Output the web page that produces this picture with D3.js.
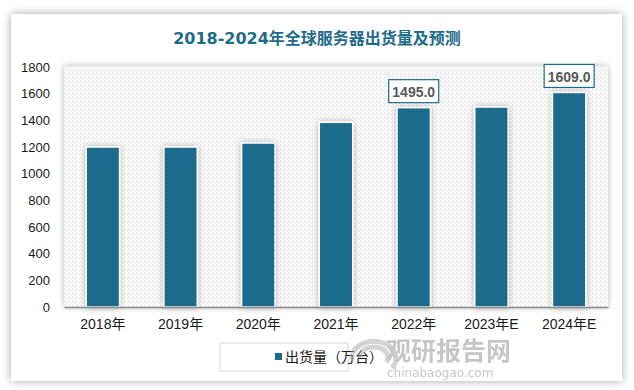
<!DOCTYPE html>
<html>
<head>
<meta charset="utf-8">
<script src="https://cdn.jsdelivr.net/npm/d3@7"></script>
<style>
  body { margin: 0; background: #ffffff; }
  svg { display: block; }
</style>
</head>
<body>
<script>
const years = ["2018年", "2019年", "2020年", "2021年", "2022年", "2023年E", "2024年E"]
const shipments = [1200, 1200, 1230, 1385, 1495, 1500, 1609]
const labelled = ["2022年", "2024年E"]
const yTicks = [0, 200, 400, 600, 800, 1000, 1200, 1400, 1600, 1800]

const title = "2018-2024年全球服务器出货量及预测"
const legendLabel = "出货量（万台）"

window.onload = function () {

    const width = 634, height = 390
    const plot = {left: 64, right: 608, top: 67, bottom: 307}
    const barColor = "#1b6a8c"
    const font = "'Liberation Sans', 'Noto Sans CJK SC', sans-serif"

    const svg = d3.select('body').append('svg')
        .attr('width', width)
        .attr('height', height)

    const defs = svg.append('defs')

    const panelShadow = defs.append('filter').attr('id', 'panelShadow')
        .attr('x', '-10%').attr('y', '-10%').attr('width', '120%').attr('height', '120%')
    panelShadow.append('feGaussianBlur').attr('in', 'SourceAlpha').attr('stdDeviation', 5)
    panelShadow.append('feComponentTransfer').append('feFuncA').attr('type', 'linear').attr('slope', 0.35)
    const pm = panelShadow.append('feMerge')
    pm.append('feMergeNode')
    pm.append('feMergeNode').attr('in', 'SourceGraphic')

    const barShadow = defs.append('filter').attr('id', 'barShadow')
        .attr('x', '-50%').attr('y', '-20%').attr('width', '200%').attr('height', '140%')
    barShadow.append('feGaussianBlur').attr('in', 'SourceAlpha').attr('stdDeviation', 3)
    barShadow.append('feComponentTransfer').append('feFuncA').attr('type', 'linear').attr('slope', 0.3)
    const bm = barShadow.append('feMerge')
    bm.append('feMergeNode')
    bm.append('feMergeNode').attr('in', 'SourceGraphic')

    const hatch = defs.append('pattern').attr('id', 'hatch')
        .attr('patternUnits', 'userSpaceOnUse')
        .attr('width', 4).attr('height', 4)
    hatch.append('rect').attr('width', 4).attr('height', 4).attr('fill', '#ffffff')
    hatch.append('path')
        .attr('d', 'M-1,1 l2,2 M0,0 l4,4 M3,-1 l2,2')
        .attr('stroke', '#e0e0e0')
        .attr('stroke-width', 0.9)

    // white panel with soft shadow
    svg.append('rect')
        .attr('x', 11).attr('y', 14)
        .attr('width', 611).attr('height', 367)
        .attr('fill', '#ffffff')
        .attr('filter', 'url(#panelShadow)')

    svg.append('text')
        .attr('x', 317).attr('y', 44)
        .attr('text-anchor', 'middle')
        .style('font-family', "'DejaVu Sans', 'Noto Sans CJK SC', sans-serif")
        .style('font-weight', 'bold')
        .style('font-size', '16px')
        .style('fill', '#1f6b8b')
        .text(title)

    const x = d3.scaleBand()
        .domain(years)
        .range([plot.left, plot.right])
        .paddingInner(0.57)
        .paddingOuter(0.285)

    const y = d3.scaleLinear()
        .domain([0, 1800])
        .range([plot.bottom, plot.top])

    // hatched plot area
    svg.append('rect')
        .attr('x', plot.left).attr('y', plot.top - 1)
        .attr('width', plot.right - plot.left)
        .attr('height', plot.bottom - plot.top + 1)
        .attr('fill', 'url(#hatch)')
        .attr('filter', 'url(#barShadow)')

    svg.append('g')
        .selectAll('rect')
        .data(years)
        .join('rect')
        .attr('x', d => x(d))
        .attr('y', (d, i) => y(shipments[i]))
        .attr('width', x.bandwidth())
        .attr('height', (d, i) => y(0) - y(shipments[i]))
        .attr('fill', barColor)
        .attr('stroke', '#ffffff')
        .attr('stroke-width', 1.5)
        .attr('filter', 'url(#barShadow)')

    const yAxis = svg.append('g')
        .attr('transform', getTranslateString(plot.left, 0))
        .call(d3.axisLeft(y).tickValues(yTicks).tickFormat(d3.format('d')).tickSize(0).tickPadding(14))
    yAxis.select('.domain').remove()
    yAxis.selectAll('text')
        .style('font-family', font)
        .style('font-size', '13px')
        .style('fill', '#1a1a1a')

    const xAxis = svg.append('g')
        .attr('transform', getTranslateString(0, plot.bottom))
        .call(d3.axisBottom(x).tickSize(0).tickPadding(12))
    xAxis.select('.domain')
        .attr('stroke', '#8c8c8c')
        .attr('stroke-width', 1.5)
    xAxis.selectAll('text')
        .style('font-family', font)
        .style('font-size', '14px')
        .style('fill', '#1a1a1a')

    // value callouts
    const callouts = svg.append('g')
        .selectAll('g')
        .data(years.filter(d => labelled.includes(d)))
        .join('g')
        .attr('transform', d => getTranslateString(x(d) + x.bandwidth() / 2, y(shipments[years.indexOf(d)]) - 16))
    callouts.append('rect')
        .attr('x', -25).attr('y', -12)
        .attr('width', 50).attr('height', 23)
        .attr('fill', '#ffffff')
        .attr('stroke', barColor)
        .attr('stroke-width', 1.2)
    callouts.append('text')
        .attr('text-anchor', 'middle')
        .attr('dy', '0.36em')
        .style('font-family', font)
        .style('font-weight', 'bold')
        .style('font-size', '14px')
        .style('fill', '#595959')
        .text(d => shipments[years.indexOf(d)].toFixed(1))

    // legend
    const legend = svg.append('g').attr('transform', getTranslateString(220, 343))
    legend.append('rect')
        .attr('width', 128).attr('height', 28)
        .attr('fill', '#ffffff')
        .attr('stroke', '#d9d9d9')
    legend.append('rect')
        .attr('x', 55).attr('y', 10)
        .attr('width', 7).attr('height', 7)
        .attr('fill', barColor)
    legend.append('text')
        .attr('x', 65).attr('y', 19)
        .style('font-family', font)
        .style('font-size', '14px')
        .style('fill', '#1a1a1a')
        .text(legendLabel)

    // watermark
    const mark = svg.append('g').attr('opacity', 0.5)
    mark.append('path')
        .attr('d', 'M352,360 a22,17 0 1,1 40,8 M360,358 a14,10 0 1,1 26,4')
        .attr('fill', 'none')
        .attr('stroke', '#a8a8a8')
        .attr('stroke-width', 5)
    mark.append('text')
        .attr('x', 386).attr('y', 360)
        .style('font-family', "'Noto Sans CJK SC', sans-serif")
        .style('font-weight', 'bold')
        .style('font-size', '25px')
        .style('fill', '#8f8f8f')
        .text('观研报告网')
    mark.append('text')
        .attr('x', 387).attr('y', 377)
        .style('font-family', "'DejaVu Sans', sans-serif")
        .style('font-size', '12px')
        .style('fill', '#8f8f8f')
        .text('chinabaogao.com')
}

function getTranslateString(x, y){
    return 'translate(' + x + ',' + y + ')'
}
</script>
</body>
</html>
